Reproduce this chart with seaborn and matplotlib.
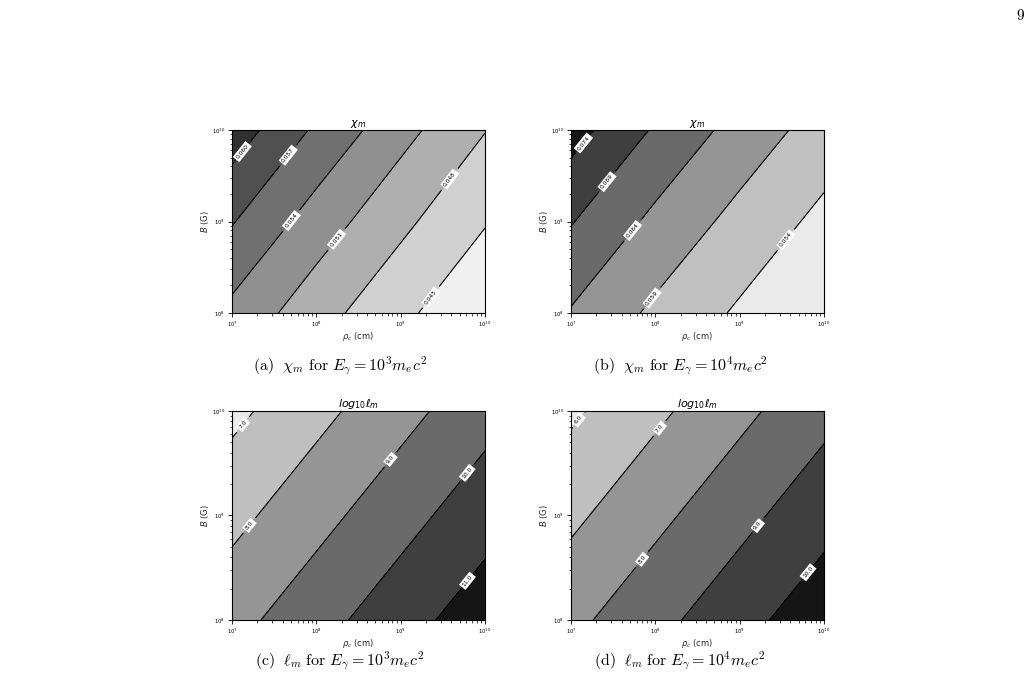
import numpy as np
import matplotlib
matplotlib.use("Agg")
import matplotlib.pyplot as plt
import seaborn as sns

# grid nodes (log10 of rho_c in cm, log10 of B in G)
rho_exp = [7, 8, 9, 10]
b_exp = [8, 9, 10]

# chi_m, one row per B node
chi_e3 = [[0.0532, 0.0492, 0.0457, 0.0424],
          [0.0572, 0.0526, 0.0487, 0.0452],
          [0.0617, 0.0565, 0.0520, 0.0481]]
chi_e4 = [[0.0636, 0.0580, 0.0533, 0.0491],
          [0.0693, 0.0628, 0.0574, 0.0527],
          [0.0761, 0.0684, 0.0621, 0.0568]]
# log10 l_m
lm_e3 = [[8.67, 9.63, 10.60, 11.56],
         [7.71, 8.67, 9.63, 10.60],
         [6.75, 7.71, 8.67, 9.63]]
lm_e4 = [[7.75, 8.70, 9.66, 10.62],
         [6.79, 7.75, 8.70, 9.66],
         [5.83, 6.79, 7.75, 8.70]]

levels_chi_e3 = [0.042, 0.045, 0.048, 0.051, 0.054, 0.057, 0.060, 0.063, 0.066]
levels_chi_e4 = [0.049, 0.054, 0.059, 0.064, 0.069, 0.074, 0.079]
levels_lm_e3 = [6, 7, 8, 9, 10, 11, 12]
levels_lm_e4 = [5, 6, 7, 8, 9, 10, 11]

sns.set_style("ticks")
plt.rcParams["axes.edgecolor"] = "black"
plt.rcParams["xtick.color"] = "black"
plt.rcParams["ytick.color"] = "black"
plt.rcParams["text.color"] = "black"

fig = plt.figure(figsize=(10.33, 7.0), dpi=100)
fig.patch.set_facecolor("white")

w = 253 / 1033
h_top = 183 / 700
h_bot = 209 / 700
ax_a = fig.add_axes([232 / 1033, 1 - 313 / 700, w, h_top])
ax_b = fig.add_axes([571 / 1033, 1 - 313 / 700, w, h_top])
ax_c = fig.add_axes([232 / 1033, 1 - 620 / 700, w, h_bot])
ax_d = fig.add_axes([571 / 1033, 1 - 620 / 700, w, h_bot])


def panel(ax, z, levels, fmt, where, title):
    ax.contourf(rho_exp, b_exp, z, levels=levels, cmap="gray_r")
    zmax = np.max(z)
    line_levels = [l for l in levels[1:-1] if l < zmax]
    cs = ax.contour(rho_exp, b_exp, z, levels=line_levels, colors="black", linewidths=0.8)
    lbls = ax.clabel(cs, fmt=fmt, fontsize=4.3, manual=where, inline=True)
    for t in lbls:
        t.set_bbox(dict(facecolor="white", edgecolor="none", pad=1.2))
    ax.set_xlim(rho_exp[0], rho_exp[-1])
    ax.set_ylim(b_exp[0], b_exp[-1])
    ax.set_xticks(rho_exp)
    ax.set_xticklabels([f"$10^{{{e}}}$" for e in rho_exp])
    ax.set_yticks(b_exp)
    ax.set_yticklabels([f"$10^{{{e}}}$" for e in b_exp])
    ax.set_xticks([e + np.log10(k) for e in rho_exp[:-1] for k in range(2, 10)], minor=True)
    ax.set_yticks([e + np.log10(k) for e in b_exp[:-1] for k in range(2, 10)], minor=True)
    ax.tick_params(which="major", length=3, width=0.6, labelsize=3.8, pad=2, direction="out")
    ax.tick_params(which="minor", length=1.8, width=0.5, direction="out")
    ax.set_xlabel(r"$\rho_c$ (cm)", fontsize=6, labelpad=0.5)
    ax.set_ylabel(r"$B$ (G)", fontsize=6, labelpad=0.5)
    ax.set_title(title, fontsize=8, pad=1.5)
    for s in ax.spines.values():
        s.set_linewidth(0.8)


panel(ax_a, chi_e3, levels_chi_e3, "%.3f",
      [(7.1, 9.78), (7.66, 9.73), (7.69, 9.02), (8.22, 8.82), (9.56, 9.48), (9.35, 8.18)],
      r"$\chi_m$")
panel(ax_b, chi_e4, levels_chi_e4, "%.3f",
      [(7.13, 9.87), (7.42, 9.44), (7.72, 8.91), (7.94, 8.18), (9.52, 8.82)],
      r"$\chi_m$")
panel(ax_c, lm_e3, levels_lm_e3, "%.1f",
      [(7.13, 9.87), (7.2, 8.91), (8.89, 9.53), (9.8, 9.4), (9.8, 8.37)],
      r"$log_{10}\ell_m$")
panel(ax_d, lm_e4, levels_lm_e4, "%.1f",
      [(7.1, 9.91), (8.06, 9.83), (7.86, 8.57), (9.22, 8.9), (9.82, 8.45)],
      r"$log_{10}\ell_m$")

captions = [
    (340, 366, r"$\mathrm{(a)}\ \ \chi_m\ \mathrm{for}\ E_\gamma = 10^3 m_e c^2$"),
    (680, 366, r"$\mathrm{(b)}\ \ \chi_m\ \mathrm{for}\ E_\gamma = 10^4 m_e c^2$"),
    (340, 661, r"$\mathrm{(c)}\ \ \ell_m\ \mathrm{for}\ E_\gamma = 10^3 m_e c^2$"),
    (680, 661, r"$\mathrm{(d)}\ \ \ell_m\ \mathrm{for}\ E_\gamma = 10^4 m_e c^2$"),
]
for x, y, s in captions:
    fig.text(x / 1033, 1 - y / 700, s, ha="center", va="center", fontsize=11.5,
             math_fontfamily="cm")

fig.text(1020 / 1033, 1 - 15 / 700, r"$\mathrm{9}$", ha="center", va="center",
         fontsize=11, math_fontfamily="cm")

fig.savefig("out.png", dpi=100, facecolor="white")
